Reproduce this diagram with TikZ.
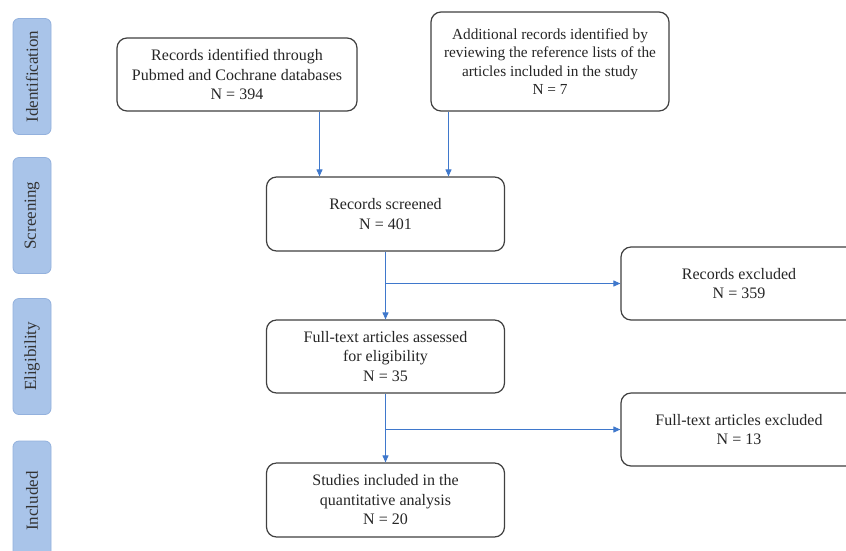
\documentclass[tikz,border=0pt]{standalone}
\usepackage{fontspec}
\setmainfont{Liberation Serif}
\usetikzlibrary{arrows.meta,calc}
\definecolor{boxline}{HTML}{404040}
\definecolor{arrowblue}{HTML}{3F78CC}
\definecolor{barfill}{HTML}{A9C4E9}
\definecolor{barline}{HTML}{93B1DD}
\tikzset{
  flowbox/.style={draw=boxline, line width=1.2pt, rounded corners=10pt, fill=white,
    align=center, inner sep=2pt, minimum width=238pt, minimum height=73pt,
    font=\fontsize{16}{19.5}\selectfont, text=black!85},
  stagebar/.style={draw=barline, line width=0.8pt, fill=barfill, rounded corners=6pt,
    rotate=90, minimum width=116pt, minimum height=38pt, inner sep=0pt,
    font=\fontsize{17}{19}\selectfont, text=black!80},
  flowarrow/.style={draw=arrowblue, line width=1pt, -{Triangle[length=7pt,width=6pt]}}
}
\begin{document}
\begin{tikzpicture}[x=1pt,y=-1pt]
\useasboundingbox (0,0) rectangle (846,550);
\clip (0,0) rectangle (846,550);
\fill[white] (0,0) rectangle (846,550);

% stage bars
\node[stagebar] (sid) at (32,76.5) {Identification};
\node[stagebar] (sscr) at (32,215.5) {Screening};
\node[stagebar] (selig) at (32,356.5) {Eligibility};
\node[stagebar, minimum width=120pt] (sinc) at (32,501) {Included};

% boxes
\node[flowbox, minimum width=240pt] (ident) at (237,74.5)
  {Records identified through\\Pubmed and Cochrane databases\\N = 394};
\node[flowbox, minimum height=99pt, font=\fontsize{15.3}{18.5}\selectfont] (addl) at (550,61.5)
  {Additional records identified by\\reviewing the reference lists of the\\articles included in the study\\N = 7};
\node[flowbox, minimum height=74pt] (scr) at (385.5,214)
  {Records screened\\N = 401};
\node[flowbox, minimum width=236pt] (exc1) at (739,283.5)
  {Records excluded\\N = 359};
\node[flowbox] (ass) at (385.5,356.5)
  {Full-text articles assessed\\for eligibility\\N = 35};
\node[flowbox, minimum width=236pt] (exc2) at (739,429.5)
  {Full-text articles excluded\\N = 13};
\node[flowbox, minimum height=74pt] (stu) at (385.5,500)
  {Studies included in the\\quantitative analysis\\N = 20};

% connectors
\draw[flowarrow] ([xshift=82.5pt]ident.south) -- ([xshift=82.5pt]ident.south |- scr.north);
\draw[flowarrow] ([xshift=-101.5pt]addl.south) -- ([xshift=-101.5pt]addl.south |- scr.north);
\draw[flowarrow] (scr.south) -- (ass.north);
\coordinate (b1) at (exc1.west -| scr.south);
\draw[flowarrow] (b1) -- (exc1.west);
\draw[flowarrow] (ass.south) -- (stu.north);
\coordinate (b2) at (exc2.west -| ass.south);
\draw[flowarrow] (b2) -- (exc2.west);
\end{tikzpicture}
\end{document}
